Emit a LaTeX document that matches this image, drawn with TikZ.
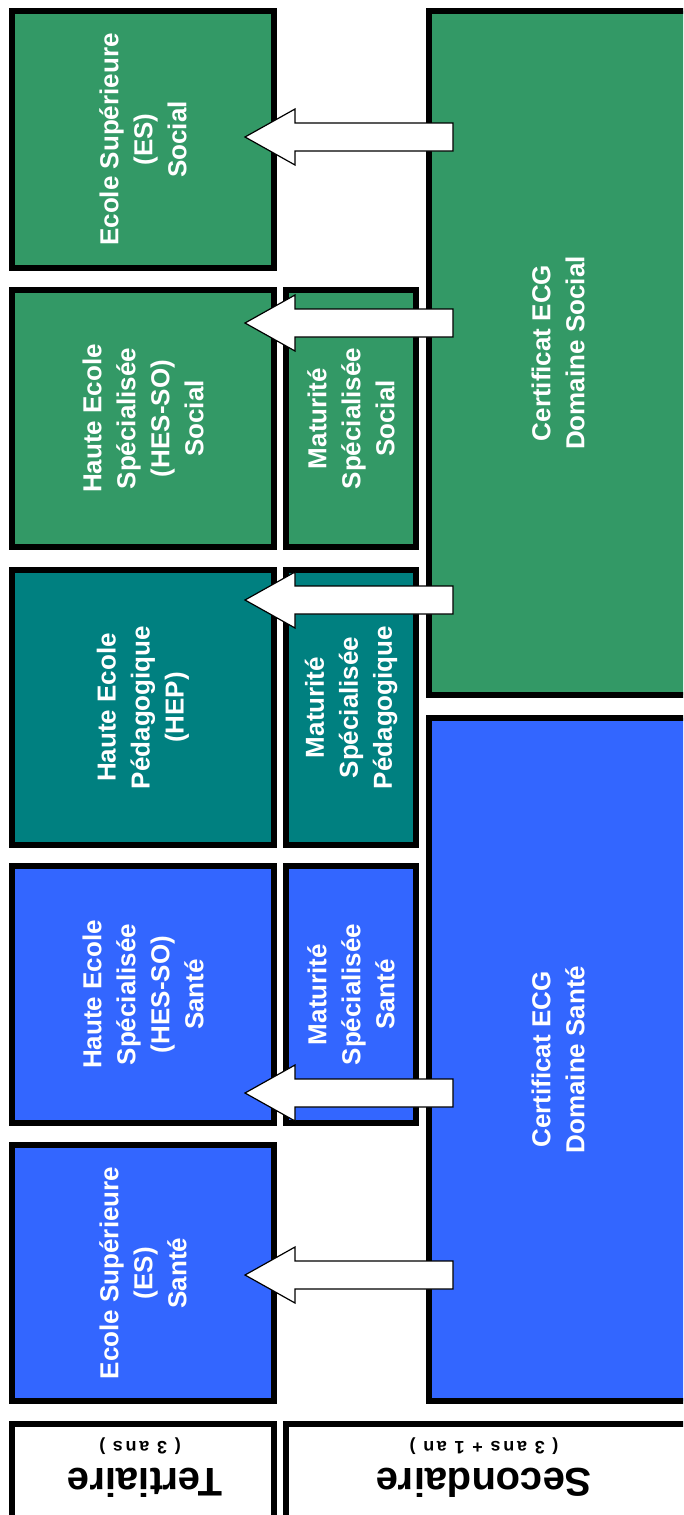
\documentclass[tikz,border=0pt]{standalone}
\usepackage{fontspec}
\setmainfont{Liberation Sans}
\usetikzlibrary{calc}
\definecolor{gsoc}{RGB}{51,153,102}
\definecolor{tped}{RGB}{0,128,128}
\definecolor{bsan}{RGB}{51,102,255}
\newcommand\myblockarrow[2]{\draw[barrow] (#2) -- ([shift={(50,-28)}]#2) -- ([shift={(50,-14)}]#2) -- ([shift={(0,-14)}]#1) -- ([shift={(0,14)}]#1) -- ([shift={(50,14)}]#2) -- ([shift={(50,28)}]#2) -- cycle;}
\begin{document}
\begin{tikzpicture}[x=1pt,y=-1pt,
  box/.style={draw=black, line width=6pt, rectangle, rotate=90, inner sep=0pt, text=white, align=center,
    font=\bfseries\fontsize{26}{34}\selectfont},
  hdrbox/.style={draw=black, line width=6pt, rectangle, fill=white, inner sep=0pt},
  bigtxt/.style={rotate=180, anchor=base, inner sep=0pt, font=\bfseries\fontsize{40}{48}\selectfont},
  smalltxt/.style={rotate=180, anchor=base, inner sep=0pt, font=\bfseries\fontsize{18}{22}\selectfont\addfontfeature{LetterSpace=15}},
  barrow/.style={draw=black, line width=1.2pt, fill=white, line join=miter}]
\useasboundingbox (0,0) rectangle (683,1515);
\clip (0,0) rectangle (683,1515);
% Secondary (Certificat) boxes
\node[box, fill=gsoc, minimum width=684, minimum height=258] (csoc) at (558,353) {Certificat ECG\\Domaine Social};
\node[box, fill=bsan, minimum width=683, minimum height=258] (csan) at (558,1059.5) {Certificat ECG\\Domaine Santé};
% Tertiary column
\node[box, fill=gsoc, minimum width=257, minimum height=262] (esso) at (143,139.5) {Ecole Supérieure\\(ES)\\Social};
\node[box, fill=gsoc, minimum width=257, minimum height=262] (hesso) at (143,418.5) {Haute Ecole\\Spécialisée\\(HES-SO)\\Social};
\node[box, fill=tped, minimum width=275, minimum height=262] (hep) at (143,707.5) {Haute Ecole\\Pédagogique\\(HEP)};
\node[box, fill=bsan, minimum width=257, minimum height=262] (hessa) at (143,994.5) {Haute Ecole\\Spécialisée\\(HES-SO)\\Santé};
\node[box, fill=bsan, minimum width=256, minimum height=262] (essa) at (143,1273) {Ecole Supérieure\\(ES)\\Santé};
% Maturite column
\node[box, fill=gsoc, minimum width=257, minimum height=130] (msoc) at (351,418.5) {Maturité\\Spécialisée\\Social};
\node[box, fill=tped, minimum width=275, minimum height=130] (mped) at (351,707.5) {Maturité\\Spécialisée\\Pédagogique};
\node[box, fill=bsan, minimum width=257, minimum height=130] (msan) at (351,994.5) {Maturité\\Spécialisée\\Santé};
% Header boxes
\node[hdrbox, minimum width=262, minimum height=116] (tert) at (143,1482) {};
\node[hdrbox, minimum width=401, minimum height=116] (sec) at (486.5,1482) {};
\node[bigtxt] (terttxt) at (145,1468) {Tertiaire};
\node[smalltxt] (tertsub) at (140,1441) {( 3 ans )};
\node[bigtxt] (sectxt) at (484,1468) {Secondaire};
\node[smalltxt] (secsub) at (484,1441) {( 3 ans + 1 an )};
% Arrows
\coordinate (t1) at (453,137);  \coordinate (h1) at (245,137);
\coordinate (t2) at (453,323);  \coordinate (h2) at (245,323);
\coordinate (t3) at (453,600);  \coordinate (h3) at (245,600);
\coordinate (t4) at (453,1093); \coordinate (h4) at (245,1093);
\coordinate (t5) at (453,1275); \coordinate (h5) at (245,1275);
\myblockarrow{t1}{h1}
\myblockarrow{t2}{h2}
\myblockarrow{t3}{h3}
\myblockarrow{t4}{h4}
\myblockarrow{t5}{h5}
\end{tikzpicture}
\end{document}
